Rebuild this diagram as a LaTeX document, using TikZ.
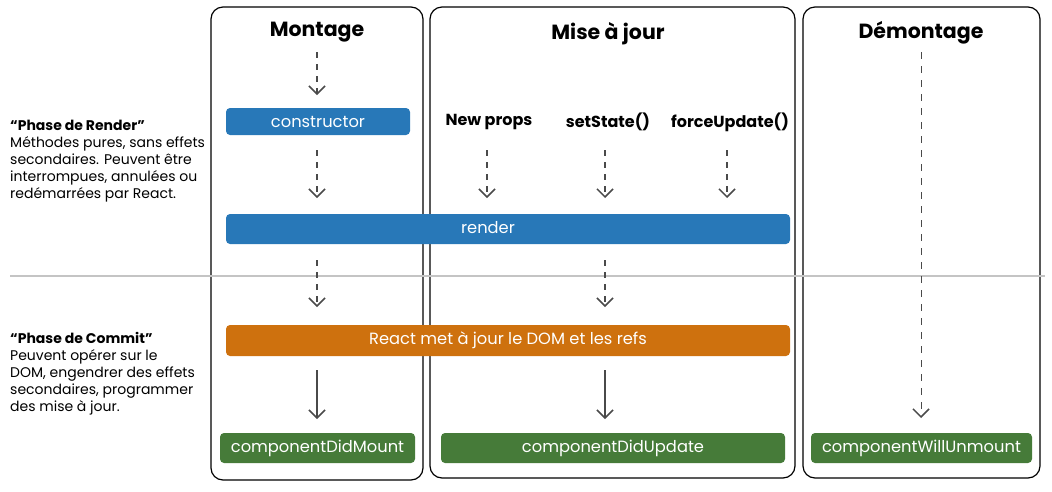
\documentclass[tikz,border=0pt]{standalone}
\usepackage{fontspec}
\setmainfont{Poppins}
\usetikzlibrary{arrows.meta}
\definecolor{rblue}{HTML}{2878B8}
\definecolor{rorange}{HTML}{CE710E}
\definecolor{rgreen}{HTML}{467B39}
\definecolor{arrgray}{HTML}{4A4A4A}
\definecolor{sepgray}{HTML}{C4C4C4}
\tikzset{
  colbox/.style={draw=black, line width=1.2pt, rounded corners=12pt, inner sep=0pt},
  bar/.style={rounded corners=4pt, inner sep=0pt, text=white, font=\fontsize{16.3}{19}\selectfont},
  bluebar/.style={bar, fill=rblue},
  orangebar/.style={bar, fill=rorange},
  greenbar/.style={bar, fill=rgreen},
  coltitle/.style={font=\fontsize{20.5}{24}\selectfont\bfseries},
  trig/.style={font=\fontsize{16}{19}\selectfont\bfseries},
  note/.style={font=\fontsize{14}{17}\selectfont, align=left, anchor=north west, inner sep=0pt},
  tip/.style={-{Straight Barb[length=8pt,width=16pt,line width=1.5pt]}},
  dasharr/.style={draw=arrgray, line width=1.5pt, dash pattern=on 6pt off 6pt, tip},
  solarr/.style={draw=arrgray, line width=1.5pt, tip}
}
\begin{document}
\begin{tikzpicture}[x=1pt,y=-1pt]
\useasboundingbox (0,0) rectangle (1052,491);
% columns
\node[colbox, minimum width=212pt, minimum height=473pt] (colM) at (317,243.5) {};
\node[colbox, minimum width=365pt, minimum height=471pt] (colU) at (612.5,242.5) {};
\node[colbox, minimum width=237pt, minimum height=471pt] (colD) at (921.5,242.5) {};
% separator
\coordinate (sepL) at (10,276);
\coordinate (sepR) at (1045,276);
\draw[sepgray, line width=2pt] (sepL) -- (sepR);
% titles
\node[coltitle] (tM) at (317,32.5) {Montage};
\node[coltitle] (tU) at (608,33.5) {Mise à jour};
\node[coltitle] (tD) at (921,32.5) {Démontage};
% boxes
\node[bluebar, minimum width=184pt, minimum height=27pt] (cons) at (318,121.5) {constructor};
\node[bluebar, minimum width=564pt, minimum height=30pt] (render) at (508,229) {};
\node[text=white, font=\fontsize{16.3}{19}\selectfont, inner sep=0pt] (renderlbl) at (488,228) {render};
\node[orangebar, minimum width=564pt, minimum height=31pt] (dom) at (508,340.5) {React met à jour le DOM et les refs};
\node[greenbar, minimum width=195pt, minimum height=30pt] (cdm) at (317.5,448) {componentDidMount};
\node[greenbar, minimum width=344pt, minimum height=30pt] (cdu) at (613,448) {componentDidUpdate};
\node[greenbar, minimum width=221pt, minimum height=30pt] (cwu) at (921.5,448) {componentWillUnmount};
% triggers
\node[trig] (np) at (489,122) {New props};
\node[trig] (ss) at (608,122) {setState()};
\node[trig] (fu) at (730,122) {forceUpdate()};
% arrows
\coordinate (a1s) at (317,52); \coordinate (a1e) at (317,95);
\draw[dasharr] (a1s) -- (a1e);
\coordinate (a2s) at (317,150); \coordinate (a2e) at (317,198);
\draw[dasharr] (a2s) -- (a2e);
\coordinate (a3s) at (487,150); \coordinate (a3e) at (487,198);
\draw[dasharr] (a3s) -- (a3e);
\coordinate (a4s) at (605,150); \coordinate (a4e) at (605,198);
\draw[dasharr] (a4s) -- (a4e);
\coordinate (a5s) at (727,150); \coordinate (a5e) at (727,198);
\draw[dasharr] (a5s) -- (a5e);
\coordinate (a6s) at (317,260); \coordinate (a6e) at (317,307);
\draw[dasharr] (a6s) -- (a6e);
\coordinate (a7s) at (605,260); \coordinate (a7e) at (605,307);
\draw[dasharr] (a7s) -- (a7e);
\coordinate (a8s) at (317,370); \coordinate (a8e) at (317,419);
\draw[solarr] (a8s) -- (a8e);
\coordinate (a9s) at (605,370); \coordinate (a9e) at (605,419);
\draw[solarr] (a9s) -- (a9e);
\coordinate (a10s) at (921,52); \coordinate (a10e) at (921,418);
\draw[dasharr, line width=1pt, dash pattern=on 7pt off 7pt] (a10s) -- (a10e);
% notes
\node[note] (nRender) at (10,120) {\textbf{“Phase de Render”}\\Méthodes pures, sans effets\\secondaires. Peuvent être\\interrompues, annulées ou\\redémarrées par React.};
\node[note] (nCommit) at (10,332) {\textbf{“Phase de Commit”}\\Peuvent opérer sur le\\DOM, engendrer des effets\\secondaires, programmer\\des mise à jour.};
\end{tikzpicture}
\end{document}
